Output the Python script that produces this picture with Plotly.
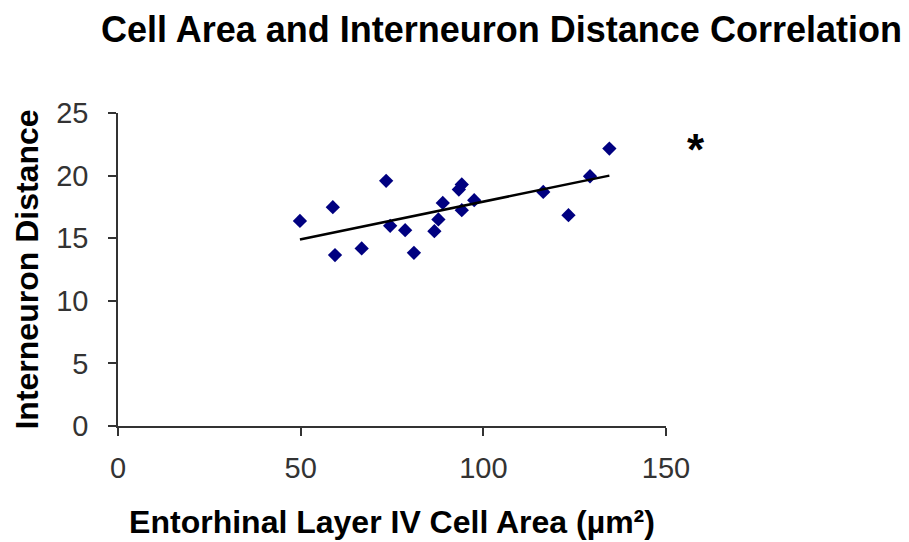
import numpy as np
import plotly.graph_objects as go

# Data
cell_area = [49.8, 58.8, 59.4, 66.7, 73.4, 74.5, 78.6, 81.0, 86.6, 87.7,
             88.9, 93.3, 94.1, 94.1, 97.5, 116.4, 123.3, 129.2, 134.5]
interneuron_distance = [16.38, 17.48, 13.65, 14.18, 19.58, 15.99, 15.64, 13.83, 15.56, 16.50,
                        17.82, 18.89, 19.29, 17.24, 18.04, 18.70, 16.84, 19.95, 22.16]
x_ticks = [0, 50, 100, 150]
y_ticks = [0, 5, 10, 15, 20, 25]

# Linear trendline over the data range (least squares)
xa = np.array(cell_area)
ya = np.array(interneuron_distance)
slope, intercept = np.polyfit(xa, ya, 1)
trend_x = [xa.min(), xa.max()]
trend_y = [slope * v + intercept for v in trend_x]

W, H = 901, 534  # page body has an 8px margin in the browser
L, R, T, B = 110, 243, 105, 116

fig = go.Figure()
fig.add_trace(go.Scatter(
    x=cell_area, y=interneuron_distance, mode="markers",
    marker=dict(symbol="diamond", size=11, color="#000080"),
    showlegend=False, cliponaxis=False,
))
fig.add_trace(go.Scatter(
    x=trend_x, y=trend_y, mode="lines",
    line=dict(color="black", width=2.5),
    showlegend=False,
))

fig.add_annotation(x=1.055, y=0.904, xref="paper", yref="paper", text="<b>*</b>",
                   xanchor="center", yanchor="middle",
                   showarrow=False, font=dict(family="Liberation Sans, Arial", size=44, color="black"),
                   yshift=-6)

axis_font = dict(family="Liberation Sans, Arial", size=29, color="#333333")

fig.update_layout(
    width=W, height=H,
    margin=dict(l=L, r=R, t=T, b=B, autoexpand=False),
    paper_bgcolor="white", plot_bgcolor="white",
    title=dict(text="<b>Cell Area and Interneuron Distance Correlation</b>",
               x=(501.5 - 8) / W, xanchor="center", xref="container",
               y=1 - 21 / H, yanchor="middle", yref="container",
               font=dict(family="Liberation Sans, Arial", size=36, color="black")),
    xaxis=dict(range=[0, 150], tickvals=x_ticks, ticktext=[str(v) for v in x_ticks],
               showgrid=False, zeroline=False, showline=True, linecolor="#333333", linewidth=1.5,
               ticks="outside", ticklen=8, tickcolor="#333333", tickwidth=1.5,
               tickfont=axis_font, ticklabelstandoff=7,
               title=dict(text="<b>Entorhinal Layer IV Cell Area (µm²)</b>",
                          font=dict(family="Liberation Sans, Arial", size=32, color="black"), standoff=28)),
    yaxis=dict(range=[0, 25], tickvals=y_ticks, ticktext=[str(v) for v in y_ticks],
               showgrid=False, zeroline=False, showline=True, linecolor="#333333", linewidth=1.5,
               ticks="outside", ticklen=8, tickcolor="#333333", tickwidth=1.5,
               tickfont=axis_font, ticklabelstandoff=14,
               title=dict(text="<b>Interneuron Distance</b>",
                          font=dict(family="Liberation Sans, Arial", size=32, color="black"), standoff=8)),
)

fig.write_html("out.html")
